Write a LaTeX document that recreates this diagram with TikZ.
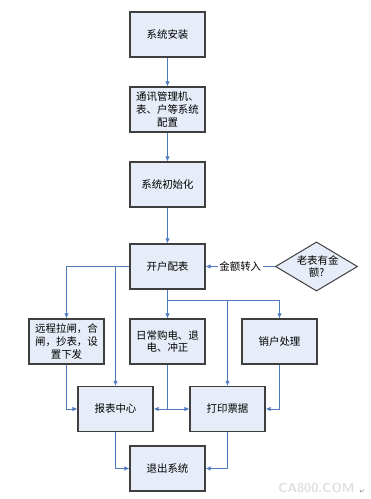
\documentclass[tikz,border=0pt]{standalone}
\usepackage{fontspec}
\setmainfont{Noto Sans CJK SC}
\newfontfamily\symfont{DejaVu Sans}
\usetikzlibrary{shapes.geometric,arrows.meta}
\definecolor{boxfill}{HTML}{E7EDF8}
\definecolor{boxline}{HTML}{3F3F3F}
\definecolor{conn}{HTML}{4F7BBE}
\begin{document}
\begin{tikzpicture}[x=1bp,y=-1bp,
  box/.style={draw=boxline,line width=1.1bp,fill=boxfill,minimum width=75bp,minimum height=45bp,inner sep=1bp,align=center,font=\fontsize{10.5}{13}\selectfont},
  dia/.style={diamond,draw=boxline,line width=1bp,fill=boxfill,minimum width=75bp,minimum height=45bp,aspect=1.67,inner sep=0bp,align=center,font=\fontsize{10.5}{13}\selectfont},
  conn/.style={draw=conn,line width=0.9bp,-{Latex[length=5bp,width=4.5bp]}},
  plain/.style={draw=conn,line width=0.9bp}]
\useasboundingbox (0,0) rectangle (370,499);
\fill[white] (0,0) rectangle (370,499);
\node[box] (install) at (167.5,34.5) {系统安装};
\node[box] (config) at (167.5,109.5) {通讯管理机、\\表、户等系统\\配置};
\node[box] (init) at (167.5,184.5) {系统初始化};
\node[box] (open) at (167.5,266.5) {开户配表};
\node[dia,draw=boxline] (old) at (316.5,266.5) {\ 老表有金\\额?};
\node[box] (remote) at (66.5,341.5) {远程拉闸，合\\闸，抄表，设\\置下发};
\node[box] (daily) at (167.5,341.5) {日常购电、退\\电、冲正};
\node[box] (cancel) at (279.5,341.5) {销户处理};
\node[box] (report) at (115.5,409) {报表中心};
\node[box] (print) at (227.5,409) {打印票据};
\node[box] (exit) at (167.5,468.5) {退出系统};
\coordinate (split) at (167.5,300);
% vertical chain
\draw[conn] (install) -- (config);
\draw[conn] (config) -- (init);
\draw[conn] (init) -- (open);
% diamond to open
\draw[conn] (old.west) -- node[fill=white,inner sep=1.5bp,font=\fontsize{10.5}{13}\selectfont] (lbl) {金额转入} (open.east);
% open left branches
\draw[conn] (open.west) -| (remote.north);
\draw[conn] (report.north |- open.west) -- (report.north);
% open bottom branches
\draw[conn] (open.south) -- (daily.north);
\draw[conn] (split) -| (cancel.north);
\draw[conn] (print.north |- split) -- (print.north);
% into report / print
\draw[conn] (remote.south) |- (report.west);
\draw[conn] (daily.south) |- (report.east);
\draw[conn] (daily.south) |- (print.west);
\draw[conn] (cancel.south) |- (print.east);
% to exit
\draw[conn] (report.south) |- (exit.west);
\draw[conn] (print.south) |- (exit.east);
% watermark
\node[text=black!12,font=\fontsize{13}{13}\sffamily\bfseries,anchor=east] (wm) at (358,488) {CA800.COM};
\node[text=black!55,font=\symfont\fontsize{6}{6}\selectfont] (pm) at (362,492) {↵};
\end{tikzpicture}
\end{document}
